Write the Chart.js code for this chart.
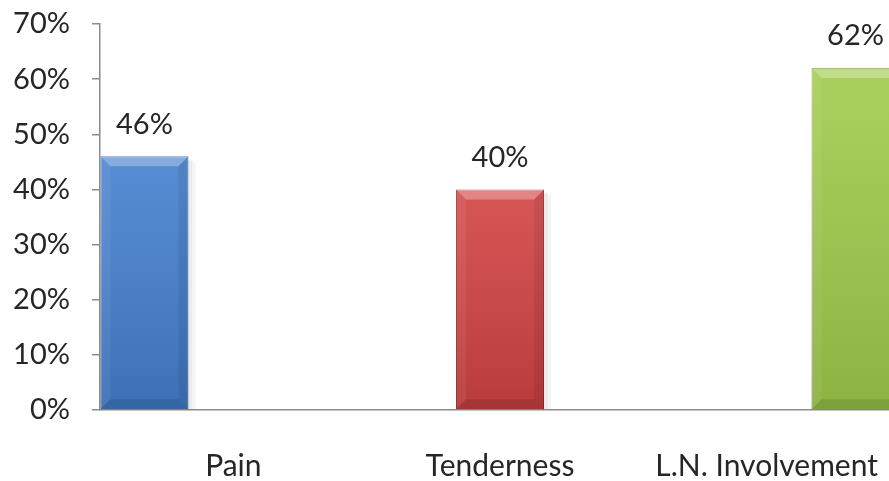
<!DOCTYPE html>
<html lang="en">
<head>
<meta charset="UTF-8">
<title>Pain / Tenderness / L.N. Involvement</title>
<script src="https://cdn.jsdelivr.net/npm/chart.js"></script>
<style>
    html, body { margin: 0; padding: 0; background: #fff; overflow: hidden; }
    #wrap { width: 889px; height: 481px; overflow: hidden; position: relative; }
    #chart { display: block; }
</style>
</head>
<body>
<div id="wrap">
    <canvas id="chart" width="900" height="481"></canvas>
</div>

<script>
    // 차트 데이터
    const categories = ['Pain', 'Tenderness', 'L.N. Involvement'];
    const painValues = [46, null, null];
    const tendernessValues = [null, 40, null];
    const lnValues = [null, null, 62];
    const yTicks = [0, 10, 20, 30, 40, 50, 60, 70];

    const FONT = 'Lato, "Open Sans", sans-serif';

    // 막대 그림자 (막대보다 먼저 그림)
    const barShadow = {
        id: 'barShadow',
        beforeDatasetsDraw(chart) {
            const ctx = chart.ctx;
            ctx.save();
            chart.data.datasets.forEach((ds, i) => {
                chart.getDatasetMeta(i).data.forEach((bar, j) => {
                    if (ds.data[j] == null) return;
                    const half = bar.width / 2;
                    ctx.fillStyle = 'rgba(0,0,0,0.08)';
                    ctx.fillRect(bar.x + half, bar.y + 4, 4, bar.base - bar.y - 4);
                    ctx.fillStyle = 'rgba(0,0,0,0.04)';
                    ctx.fillRect(bar.x + half + 4, bar.y + 6, 3, bar.base - bar.y - 6);
                });
            });
            ctx.restore();
        }
    };

    // 막대 위 입체(베벨) 효과
    const barBevel = {
        id: 'barBevel',
        afterDatasetsDraw(chart) {
            const ctx = chart.ctx;
            ctx.save();
            chart.data.datasets.forEach((ds, i) => {
                chart.getDatasetMeta(i).data.forEach((bar, j) => {
                    if (ds.data[j] == null) return;
                    const l = bar.x - bar.width / 2, r = bar.x + bar.width / 2;
                    const t = bar.y, b = bar.base, bv = 10;
                    // 위에서 아래로 어두워지는 그라데이션
                    const g = ctx.createLinearGradient(0, t, 0, b);
                    g.addColorStop(0, 'rgba(255,255,255,0.10)');
                    g.addColorStop(1, 'rgba(0,0,0,0.12)');
                    ctx.fillStyle = g;
                    ctx.fillRect(l, t, r - l, b - t);
                    // 윗면
                    ctx.fillStyle = 'rgba(255,255,255,0.28)';
                    ctx.beginPath();
                    ctx.moveTo(l, t); ctx.lineTo(r, t); ctx.lineTo(r - bv, t + bv); ctx.lineTo(l + bv, t + bv);
                    ctx.closePath(); ctx.fill();
                    // 왼쪽 면
                    ctx.fillStyle = 'rgba(255,255,255,0.06)';
                    ctx.beginPath();
                    ctx.moveTo(l, t); ctx.lineTo(l + bv, t + bv); ctx.lineTo(l + bv, b - bv); ctx.lineTo(l, b);
                    ctx.closePath(); ctx.fill();
                    // 오른쪽 면
                    ctx.fillStyle = 'rgba(0,0,0,0.07)';
                    ctx.beginPath();
                    ctx.moveTo(r, t); ctx.lineTo(r - bv, t + bv); ctx.lineTo(r - bv, b - bv); ctx.lineTo(r, b);
                    ctx.closePath(); ctx.fill();
                    // 아랫면
                    ctx.fillStyle = 'rgba(0,0,0,0.10)';
                    ctx.beginPath();
                    ctx.moveTo(l, b); ctx.lineTo(r, b); ctx.lineTo(r - bv, b - bv); ctx.lineTo(l + bv, b - bv);
                    ctx.closePath(); ctx.fill();
                });
            });
            ctx.restore();
        }
    };

    // 막대 위에 값 표시
    const valueLabels = {
        id: 'valueLabels',
        afterDatasetsDraw(chart) {
            const ctx = chart.ctx;
            ctx.save();
            ctx.font = '29px ' + FONT;
            ctx.fillStyle = '#262626';
            ctx.textAlign = 'center';
            ctx.textBaseline = 'middle';
            chart.data.datasets.forEach((ds, i) => {
                chart.getDatasetMeta(i).data.forEach((bar, j) => {
                    if (ds.data[j] == null) return;
                    ctx.fillText(ds.data[j] + '%', bar.x, bar.y - 32);
                });
            });
            ctx.restore();
        }
    };

    new Chart(document.getElementById('chart'), {
        type: 'bar',
        data: {
            labels: categories,
            datasets: [
                { label: 'Pain', data: painValues,
                  backgroundColor: '#4480cf', borderColor: '#2f5d99', borderWidth: 1 },
                { label: 'Tenderness', data: tendernessValues,
                  backgroundColor: '#d24343', borderColor: '#9c3030', borderWidth: 1 },
                { label: 'L.N. Involvement', data: lnValues,
                  backgroundColor: '#a0cb4b', borderColor: '#7c9d3a', borderWidth: 1 }
            ]
        },
        options: {
            responsive: false,
            animation: false,
            layout: { padding: { top: 24, right: 0, left: 0, bottom: 0 } },
            plugins: {
                legend: { display: false },
                tooltip: { enabled: false }
            },
            datasets: {
                bar: { categoryPercentage: 1.0, barPercentage: 0.99 }
            },
            scales: {
                x: {
                    grid: { display: false },
                    border: { display: true, color: '#8c8c8c', width: 1.5 },
                    ticks: {
                        color: '#262626',
                        padding: 30,
                        font: { family: FONT, size: 30 },
                        maxRotation: 0,
                        autoSkip: false
                    },
                    afterFit: (scale) => {
                        scale.height = 71;
                        scale.paddingLeft = 0;
                        scale.paddingRight = 0;
                    }
                },
                y: {
                    min: 0,
                    max: 70,
                    afterBuildTicks: (scale) => {
                        scale.ticks = yTicks.map(v => ({ value: v }));
                    },
                    grid: {
                        drawOnChartArea: false,
                        drawTicks: true,
                        tickLength: 8,
                        color: '#8c8c8c',
                        lineWidth: 1.5
                    },
                    border: { display: true, color: '#8c8c8c', width: 1.5 },
                    ticks: {
                        color: '#262626',
                        padding: 22,
                        font: { family: FONT, size: 29 },
                        callback: (v) => v + '%'
                    },
                    afterFit: (scale) => {
                        scale.width = 100;
                        scale.paddingTop = 0;
                        scale.paddingBottom = 0;
                    }
                }
            }
        },
        plugins: [barShadow, barBevel, valueLabels]
    });
</script>
</body>
</html>
